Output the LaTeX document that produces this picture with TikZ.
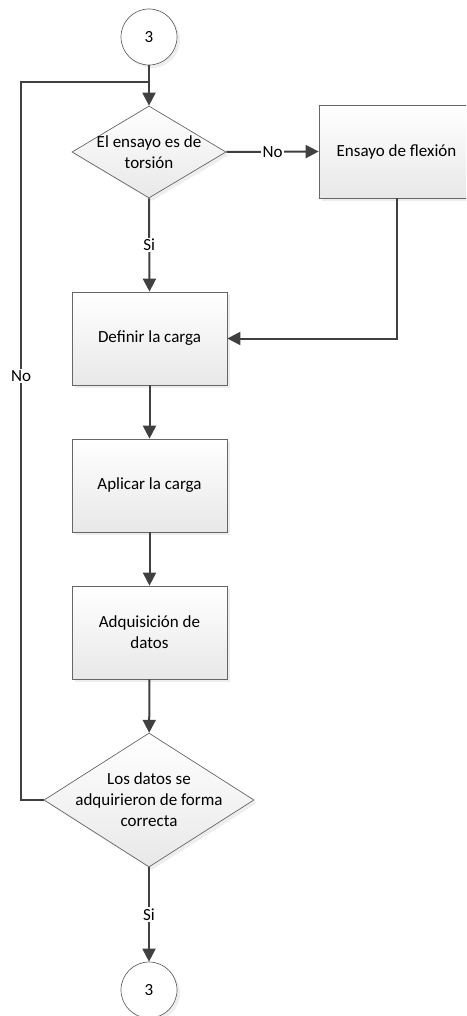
\documentclass[tikz,border=0pt]{standalone}
\usepackage{fontspec}
\setmainfont{Carlito}
\usetikzlibrary{shapes.geometric,arrows.meta,shadows}

\begin{document}
\begin{tikzpicture}[x=1pt,y=-1pt,
		every node/.style={font=\fontsize{17}{21}\selectfont},
		flowbox/.style={rectangle, draw=black!60, line width=0.7pt, top color=white, bottom color=black!9,
			minimum width=155pt, minimum height=93pt, inner sep=0pt, align=center,
			drop shadow={shadow xshift=3pt, shadow yshift=-3pt, fill=black!13}},
		flowdiamond/.style={diamond, draw=black!60, line width=0.7pt, top color=white, bottom color=black!9,
			inner sep=0pt, drop shadow={shadow xshift=3pt, shadow yshift=-3pt, fill=black!13}},
		connector/.style={circle, draw=black!60, line width=0.7pt, fill=white, minimum size=56pt, inner sep=0pt,
			drop shadow={shadow xshift=3pt, shadow yshift=-3pt, fill=black!13}},
		link/.style={draw=black!75, line width=2pt, -{Triangle[length=13pt,width=13pt]}},
		line/.style={draw=black!75, line width=2pt},
		edgelabel/.style={fill=white, inner sep=1.5pt}]
		\useasboundingbox (0,0) rectangle (466,1016);
		\clip (0,0) rectangle (466,1016);
		
		\node [connector] (ini) at (149,37) {3};
		\node [flowdiamond, minimum width=154pt, minimum height=92pt] (torsion) at (149,152) {};
		\node [align=center] (torsiontxt) at (torsion) {El ensayo es de\\torsión};
		\node [flowbox] (flexion) at (396.5,151.5) {Ensayo de flexión};
		\node [flowbox] (definir) at (149.5,338.5) {Definir la carga};
		\node [flowbox] (aplicar) at (149.5,485.5) {Aplicar la carga};
		\node [flowbox] (adquisicion) at (149.5,632.5) {Adquisición de\\datos};
		\node [flowdiamond, minimum width=210pt, minimum height=134pt] (correcta) at (149,800) {};
		\node [align=center] (correctatxt) at (correcta) {Los datos se\\adquirieron de forma\\correcta};
		\node [connector] (fin) at (149,990) {3};
		
		\coordinate (junta) at (149,82);
		\coordinate (vueltaabajo) at (21,800);
		\coordinate (vueltaarriba) at (21,82);
		
		\draw [link] (ini) -- (torsion);
		\draw [line] (correcta.west) -- (vueltaabajo) -- node [edgelabel, pos=0.59] {No} (vueltaarriba) -- (junta);
		\draw [link] (torsion.east) -- node [edgelabel] {No} (flexion.west);
		\draw [link] (torsion.south) -- node [edgelabel] {Si} (definir.north);
		\draw [link] (flexion.south) |- (definir.east);
		\draw [link] (definir) -- (aplicar);
		\draw [link] (aplicar) -- (adquisicion);
		\draw [link] (adquisicion) -- (correcta);
		\draw [link] (correcta.south) -- node [edgelabel] {Si} (fin.north);
\end{tikzpicture}
\end{document}
